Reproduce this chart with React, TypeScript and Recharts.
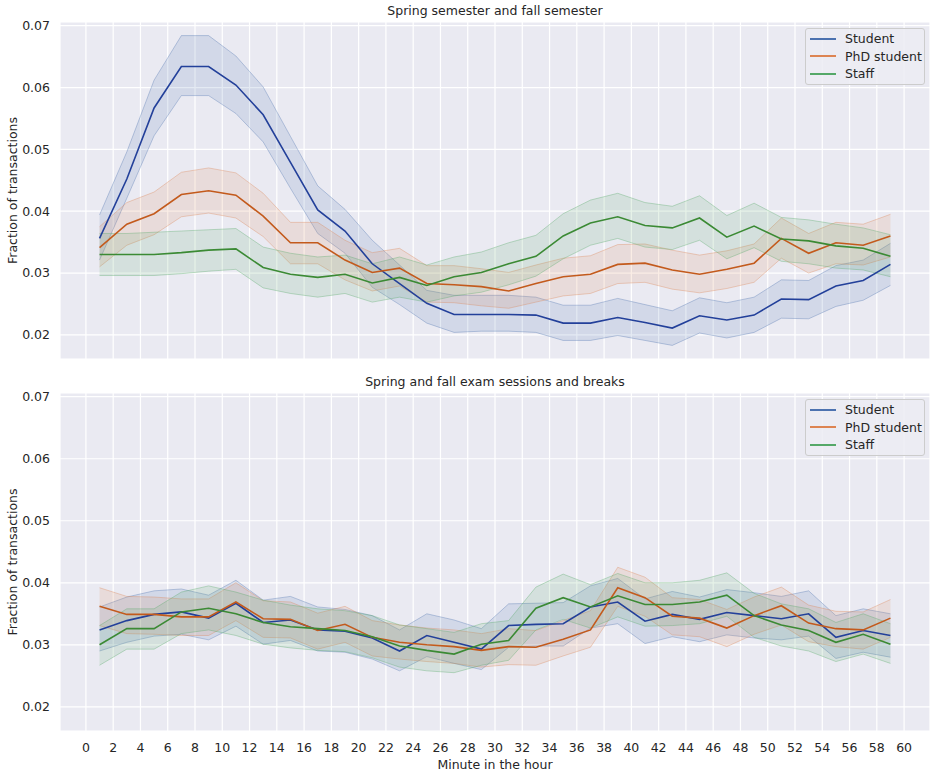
import * as React from "react";
import { ComposedChart, Area, Line, XAxis, YAxis, CartesianGrid } from "recharts";

const minutes = [1, 3, 5, 7, 9, 11, 13, 15, 17, 19, 21, 23, 25, 27, 29, 31, 33, 35, 37, 39, 41, 43, 45, 47, 49, 51, 53, 55, 57, 59];
const xTicks = [0, 2, 4, 6, 8, 10, 12, 14, 16, 18, 20, 22, 24, 26, 28, 30, 32, 34, 36, 38, 40, 42, 44, 46, 48, 50, 52, 54, 56, 58, 60];
const yTicks = [0.02, 0.03, 0.04, 0.05, 0.06, 0.07];

// semester panel
const studentSem = [0.0356, 0.0452, 0.0567, 0.0634, 0.0634, 0.0604, 0.0556, 0.0479, 0.0402, 0.0368, 0.0315, 0.0283, 0.0251, 0.0233, 0.0233, 0.0233, 0.0232, 0.0219, 0.0219, 0.0228, 0.022, 0.0211, 0.0231, 0.0224, 0.0232, 0.0258, 0.0257, 0.0279, 0.0288, 0.0314];
const studentSemLo = [0.0321, 0.0421, 0.0522, 0.0587, 0.0587, 0.0558, 0.0512, 0.0437, 0.0364, 0.0332, 0.0277, 0.0249, 0.0219, 0.0204, 0.0206, 0.0206, 0.0204, 0.0191, 0.0191, 0.0199, 0.0191, 0.0183, 0.0203, 0.0195, 0.0204, 0.0227, 0.0226, 0.0246, 0.0256, 0.028];
const studentSemHi = [0.0394, 0.0496, 0.0612, 0.0684, 0.0684, 0.0651, 0.0601, 0.0521, 0.0441, 0.0403, 0.0353, 0.0313, 0.0272, 0.0264, 0.0264, 0.0264, 0.0261, 0.0248, 0.0248, 0.0259, 0.0249, 0.0239, 0.026, 0.0252, 0.0261, 0.0289, 0.0288, 0.0312, 0.0321, 0.0348];
const phdSem = [0.0341, 0.0379, 0.0396, 0.0427, 0.0433, 0.0426, 0.0392, 0.0349, 0.0349, 0.0321, 0.0301, 0.0308, 0.0283, 0.0281, 0.0278, 0.0271, 0.0283, 0.0294, 0.0298, 0.0314, 0.0316, 0.0305, 0.0298, 0.0306, 0.0316, 0.0356, 0.0332, 0.0349, 0.0345, 0.036];
const phdSemLo = [0.031, 0.0345, 0.0362, 0.0391, 0.0397, 0.0389, 0.0359, 0.0315, 0.0315, 0.0289, 0.0271, 0.0279, 0.0253, 0.0252, 0.0247, 0.0243, 0.0253, 0.0263, 0.0267, 0.0283, 0.0285, 0.0274, 0.0268, 0.0275, 0.0285, 0.0324, 0.03, 0.0315, 0.0313, 0.0326];
const phdSemHi = [0.0375, 0.0414, 0.0431, 0.0463, 0.047, 0.0462, 0.0429, 0.0382, 0.0382, 0.0353, 0.0333, 0.034, 0.0312, 0.0312, 0.0307, 0.0301, 0.0313, 0.0324, 0.0328, 0.0346, 0.0347, 0.0337, 0.0329, 0.0336, 0.0347, 0.0389, 0.0364, 0.0382, 0.0379, 0.0395];
const staffSem = [0.033, 0.033, 0.033, 0.0333, 0.0337, 0.0339, 0.0309, 0.0298, 0.0293, 0.0298, 0.0284, 0.0293, 0.028, 0.0294, 0.0301, 0.0315, 0.0327, 0.036, 0.0381, 0.0391, 0.0377, 0.0373, 0.0389, 0.0358, 0.0376, 0.0355, 0.0352, 0.0344, 0.034, 0.0327];
const staffSemLo = [0.0296, 0.0296, 0.0296, 0.0299, 0.0303, 0.0306, 0.0276, 0.0267, 0.0261, 0.0267, 0.0253, 0.0261, 0.0253, 0.0263, 0.0269, 0.0281, 0.0295, 0.0323, 0.0345, 0.0356, 0.0342, 0.0338, 0.0353, 0.0323, 0.0341, 0.0319, 0.0315, 0.0308, 0.0305, 0.0294];
const staffSemHi = [0.0364, 0.0364, 0.0366, 0.0368, 0.037, 0.0372, 0.0342, 0.0332, 0.0326, 0.0329, 0.0315, 0.0326, 0.0313, 0.0326, 0.0334, 0.0349, 0.0361, 0.0396, 0.0418, 0.0429, 0.0414, 0.0408, 0.0425, 0.0393, 0.0413, 0.039, 0.0386, 0.0379, 0.0373, 0.0362];

// exam sessions / breaks panel
const studentExam = [0.0324, 0.0339, 0.0349, 0.0353, 0.0343, 0.0367, 0.0336, 0.034, 0.0324, 0.0322, 0.0311, 0.029, 0.0315, 0.0304, 0.0293, 0.0331, 0.0333, 0.0334, 0.0361, 0.0369, 0.0338, 0.0349, 0.0341, 0.0352, 0.0347, 0.0342, 0.035, 0.0312, 0.0323, 0.0315];
const studentExamLo = [0.029, 0.0304, 0.0314, 0.0317, 0.0308, 0.033, 0.0301, 0.0307, 0.029, 0.0288, 0.0277, 0.0258, 0.0281, 0.027, 0.026, 0.0296, 0.0298, 0.0298, 0.0327, 0.0334, 0.0302, 0.0313, 0.0305, 0.0316, 0.0311, 0.0308, 0.0314, 0.0278, 0.0288, 0.028];
const studentExamHi = [0.0361, 0.0377, 0.0387, 0.039, 0.038, 0.0404, 0.0372, 0.0378, 0.0361, 0.0357, 0.0347, 0.0324, 0.035, 0.034, 0.0326, 0.0366, 0.0367, 0.0368, 0.0395, 0.0407, 0.0374, 0.0386, 0.0377, 0.0389, 0.0384, 0.0378, 0.0387, 0.0347, 0.0358, 0.035];
const phdExam = [0.0362, 0.0349, 0.0349, 0.0345, 0.0345, 0.0369, 0.0342, 0.0341, 0.0323, 0.0333, 0.0312, 0.0304, 0.03, 0.0297, 0.0291, 0.0297, 0.0296, 0.0309, 0.0324, 0.0392, 0.0376, 0.0346, 0.0343, 0.0327, 0.0347, 0.0363, 0.0335, 0.0326, 0.0324, 0.0343];
const phdExamLo = [0.0331, 0.0318, 0.0317, 0.0315, 0.0315, 0.0339, 0.0312, 0.0311, 0.0293, 0.0304, 0.0282, 0.0277, 0.0273, 0.027, 0.0264, 0.0268, 0.0267, 0.0282, 0.0296, 0.0362, 0.0346, 0.0316, 0.0313, 0.0297, 0.0317, 0.0332, 0.0305, 0.0297, 0.0293, 0.0312];
const phdExamHi = [0.0392, 0.0378, 0.0377, 0.0374, 0.0374, 0.04, 0.0371, 0.0369, 0.0351, 0.0362, 0.0339, 0.0332, 0.0327, 0.0324, 0.0318, 0.0326, 0.0323, 0.0339, 0.0355, 0.0425, 0.0409, 0.0376, 0.0373, 0.0357, 0.0377, 0.0393, 0.0364, 0.0354, 0.0353, 0.0373];
const staffExam = [0.03, 0.0326, 0.0326, 0.0353, 0.0359, 0.035, 0.0336, 0.0329, 0.0326, 0.0323, 0.0313, 0.0298, 0.0291, 0.0285, 0.0301, 0.0307, 0.0359, 0.0376, 0.0361, 0.0379, 0.0365, 0.0365, 0.0369, 0.038, 0.0347, 0.0332, 0.0323, 0.0304, 0.0317, 0.0301];
const staffExamLo = [0.0267, 0.0293, 0.0293, 0.0318, 0.0324, 0.0315, 0.0301, 0.0295, 0.0291, 0.0289, 0.0279, 0.0264, 0.0258, 0.0255, 0.0267, 0.0275, 0.0324, 0.0341, 0.0327, 0.0345, 0.033, 0.0331, 0.0334, 0.0346, 0.0312, 0.0298, 0.029, 0.0273, 0.0285, 0.027];
const staffExamHi = [0.0331, 0.0358, 0.0358, 0.0385, 0.0395, 0.0385, 0.0372, 0.0364, 0.0358, 0.0355, 0.0347, 0.0332, 0.0326, 0.032, 0.0334, 0.0339, 0.0393, 0.0414, 0.0397, 0.0415, 0.04, 0.04, 0.0404, 0.0416, 0.0383, 0.0366, 0.0358, 0.0336, 0.035, 0.0334];

const FONT = "'DejaVu Sans', sans-serif";
const TEXT = "#262626";
const FS = 12.5;

const groups = [
  { key: "student", name: "Student", line: "#23409a", band: "#4c72b0" },
  { key: "phd", name: "PhD student", line: "#c35a1c", band: "#dd8452" },
  { key: "staff", name: "Staff", line: "#3b8a34", band: "#55a868" },
];

const buildRows = (series: number[][]) =>
  minutes.map((m, i) => ({
    minute: m,
    student: series[0][i],
    studentBand: [series[1][i], series[2][i]],
    phd: series[3][i],
    phdBand: [series[4][i], series[5][i]],
    staff: series[6][i],
    staffBand: [series[7][i], series[8][i]],
  }));

const semRows = buildRows([studentSem, studentSemLo, studentSemHi, phdSem, phdSemLo, phdSemHi, staffSem, staffSemLo, staffSemHi]);
const examRows = buildRows([studentExam, studentExamLo, studentExamHi, phdExam, phdExamLo, phdExamHi, staffExam, staffExamLo, staffExamHi]);

const YLabel = (props: any) => {
  const vb = props.viewBox || {};
  const cy = (vb.y || 0) + (vb.height || 0) / 2;
  return (
    <text x={12} y={cy} transform={`rotate(-90, 12, ${cy})`} textAnchor="middle" dominantBaseline="central" fill={TEXT} fontSize={FS} fontFamily={FONT}>
      Fraction of transactions
    </text>
  );
};

const LegendBox = ({ top }: { top: number }) => (
  <div
    style={{
      position: "absolute",
      left: 805,
      top,
      width: 118,
      height: 55,
      background: "rgba(236,236,243,0.85)",
      border: "1px solid #cccccc",
      borderRadius: 3,
      fontFamily: FONT,
      fontSize: FS,
      color: TEXT,
    }}
  >
    {groups.map((g, i) => (
      <div key={g.key} style={{ position: "absolute", left: 4, top: 1 + i * 17.5, height: 17, display: "flex", alignItems: "center" }}>
        <div style={{ width: 26, height: 2, background: g.band }} />
        <span style={{ marginLeft: 9, whiteSpace: "nowrap" }}>{g.name}</span>
      </div>
    ))}
  </div>
);

const Panel = ({ title, rows, top, showX }: { title: string; rows: any[]; top: number; showX: boolean }) => {
  const height = showX ? 402 : 380;
  return (
    <div style={{ position: "absolute", left: 0, top, width: 935, height }}>
      <div style={{ position: "absolute", left: 60, width: 870, top: 3, textAlign: "center", fontFamily: FONT, fontSize: FS, color: TEXT }}>
        {title}
      </div>
      <ComposedChart width={935} height={height} data={rows} margin={{ top: 22, right: 5, bottom: showX ? 0 : 20, left: 0 }}>
        <CartesianGrid fill="#eaeaf2" stroke="#ffffff" strokeWidth={1.2} />
        <XAxis
          dataKey="minute"
          type="number"
          domain={[-1.9, 61.9]}
          ticks={xTicks}
          interval={0}
          allowDataOverflow
          axisLine={false}
          tickLine={false}
          tickSize={0}
          tickMargin={12}
          height={showX ? 42 : 1}
          tick={showX ? { fill: TEXT, fontSize: FS, fontFamily: FONT } : () => <g />}
          label={showX ? { value: "Minute in the hour", position: "insideBottom", offset: 4, fill: TEXT, fontSize: FS, fontFamily: FONT } : undefined}
        />
        <YAxis
          type="number"
          domain={[0.0161, 0.0706]}
          ticks={yTicks}
          allowDataOverflow
          width={60}
          axisLine={false}
          tickLine={false}
          tickSize={0}
          tickMargin={10}
          tickFormatter={(v: number) => v.toFixed(2)}
          tick={{ fill: TEXT, fontSize: FS, fontFamily: FONT }}
          label={{ content: YLabel }}
        />
        {groups.map((g) => (
          <Area
            key={g.key + "Band"}
            dataKey={g.key + "Band"}
            type="linear"
            fill={g.band}
            fillOpacity={0.15}
            stroke={g.band}
            strokeOpacity={0.35}
            strokeWidth={1}
            dot={false}
            activeDot={false}
            isAnimationActive={false}
          />
        ))}
        {groups.map((g) => (
          <Line
            key={g.key}
            dataKey={g.key}
            type="linear"
            stroke={g.line}
            strokeWidth={1.6}
            dot={false}
            activeDot={false}
            isAnimationActive={false}
          />
        ))}
      </ComposedChart>
    </div>
  );
};

export default function App() {
  return (
    <div style={{ position: "relative", width: 935, height: 773, background: "#ffffff" }}>
      <style>{`body { margin: 0; }`}</style>
      <Panel title="Spring semester and fall semester" rows={semRows} top={0} showX={false} />
      <Panel title="Spring and fall exam sessions and breaks" rows={examRows} top={371} showX={true} />
      <LegendBox top={28} />
      <LegendBox top={399} />
    </div>
  );
}
